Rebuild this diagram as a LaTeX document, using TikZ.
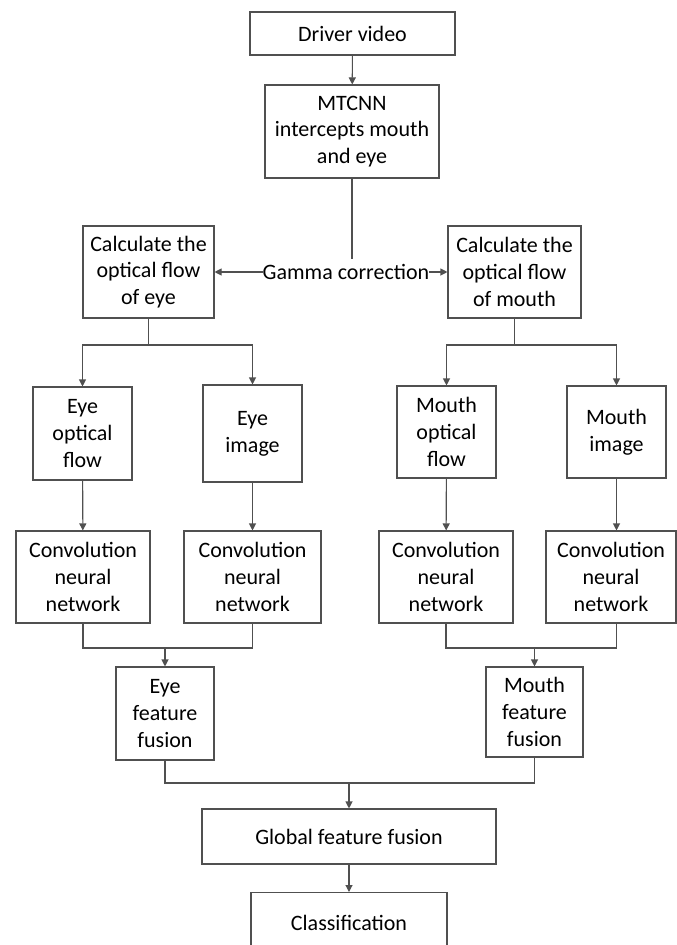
\documentclass[tikz,border=0pt]{standalone}
\usepackage{fontspec}
\setmainfont{Carlito}
\usetikzlibrary{arrows.meta}
\definecolor{ln}{HTML}{505050}
\begin{document}
\begin{tikzpicture}[x=1pt,y=-1pt,
  box/.style={draw=ln,line width=1.1pt,inner sep=0pt,align=center,font=\fontsize{22}{26.7}\selectfont,text=black},
  arr/.style={draw=ln,line width=1.1pt,-{Triangle[length=7pt,width=7pt]}},
  ln/.style={draw=ln,line width=1.1pt}]
\useasboundingbox (0,0) rectangle (677,945);
\node[box,minimum width=205,minimum height=43] (drv) at (352.5,33.5) {Driver video};
\node[box,minimum width=174,minimum height=93] (mtc) at (352,131.5) {MTCNN\\intercepts mouth\\and eye};
\node[box,minimum width=131,minimum height=92] (ce) at (148.5,272) {Calculate the\\optical flow\\of eye};
\node[box,minimum width=133,minimum height=92] (cm) at (514.5,272) {Calculate the\\optical flow\\of mouth};
\node[font=\fontsize{22}{26.7}\selectfont,inner sep=0pt,minimum height=26] (gam) at (346,272) {Gamma correction};
\node[box,minimum width=99,minimum height=93] (eof) at (82.5,433.5) {Eye\\optical\\flow};
\node[box,minimum width=99,minimum height=97] (eim) at (252.5,433.5) {Eye\\image};
\node[box,minimum width=99,minimum height=92] (mof) at (446.5,432) {Mouth\\optical\\flow};
\node[box,minimum width=99,minimum height=92] (mim) at (616.5,432) {Mouth\\image};
\node[box,minimum width=134,minimum height=92] (cn1) at (83,577) {Convolution\\neural\\network};
\node[box,minimum width=137,minimum height=92] (cn2) at (252.5,577) {Convolution\\neural\\network};
\node[box,minimum width=134,minimum height=92] (cn3) at (446,577) {Convolution\\neural\\network};
\node[box,minimum width=130,minimum height=92] (cn4) at (611,577) {Convolution\\neural\\network};
\node[box,minimum width=98,minimum height=93] (eff) at (165,713.5) {Eye\\feature\\fusion};
\node[box,minimum width=97,minimum height=90] (mff) at (534.5,712) {Mouth\\feature\\fusion};
\node[box,minimum width=294,minimum height=55] (glb) at (349,836.5) {Global feature fusion};
\node[box,minimum width=196,minimum height=60,anchor=north] (cls) at (349,892) {Classification};
% connectors
\draw[arr] (drv) -- (mtc);
\draw[ln] (mtc.south) -- (mtc.south |- gam.north);
\draw[arr] (gam.west) -- (ce.east);
\draw[arr] (gam.east) -- (cm.west);
\coordinate (j1) at (148.5,345);
\coordinate (j2) at (514.5,345);
\draw[ln] (ce.south) -- (j1);
\draw[ln] (cm.south) -- (j2);
\draw[arr] (j1) -| (eof.north);
\draw[arr] (j1) -| (eim.north);
\draw[arr] (j2) -| (mof.north);
\draw[arr] (j2) -| (mim.north);
\draw[arr] (eof) -- (cn1);
\draw[arr] (eim) -- (cn2);
\draw[arr] (mof) -- (cn3);
\draw[arr] (mim) -- (cn4.north -| mim.south);
\coordinate (m1) at (165,648);
\coordinate (m2) at (534.5,648);
\draw[ln] (cn1.south) |- (m1);
\draw[ln] (cn2.south) |- (m1);
\draw[ln] (cn3.south) |- (m2);
\draw[ln] (cn4.south -| mim.south) |- (m2);
\draw[arr] (m1) -- (eff.north);
\draw[arr] (m2) -- (mff.north);
\coordinate (m3) at (349,783);
\draw[ln] (eff.south) |- (m3);
\draw[ln] (mff.south) |- (m3);
\draw[arr] (m3) -- (glb.north);
\draw[arr] (glb) -- (cls);
\end{tikzpicture}
\end{document}
